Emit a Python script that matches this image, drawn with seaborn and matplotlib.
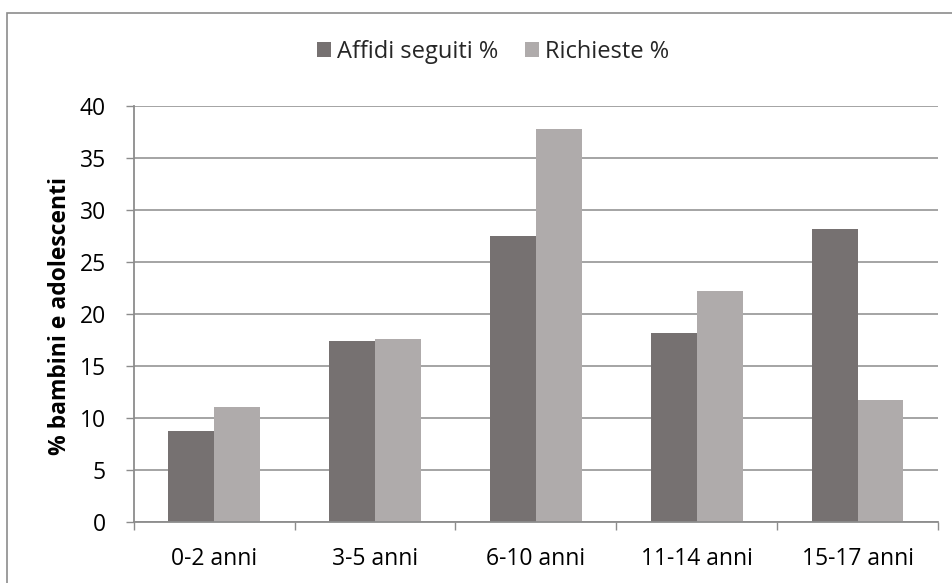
import matplotlib
matplotlib.use("Agg")
import matplotlib.pyplot as plt
import matplotlib.patches as mpatches
import seaborn as sns
import pandas as pd

categories = ["0-2 anni", "3-5 anni", "6-10 anni", "11-14 anni", "15-17 anni"]
affidi_seguiti = [8.7, 17.4, 27.5, 18.1, 28.1]
richieste = [11.0, 17.6, 37.8, 22.2, 11.7]
series_names = ["Affidi seguiti %", "Richieste %"]
y_ticks = [0, 5, 10, 15, 20, 25, 30, 35, 40]

df = pd.DataFrame({
    "fascia": categories * 2,
    "valore": affidi_seguiti + richieste,
    "serie": [series_names[0]] * len(categories) + [series_names[1]] * len(categories),
})

sns.set_theme(style="white")
plt.rcParams["font.family"] = ["Open Sans", "DejaVu Sans"]

FS = 16.5
W, H = 953, 583
fig = plt.figure(figsize=(W / 100, H / 100), dpi=100)
ax = fig.add_axes([133.7 / W, 1 - 521.7 / H, (938 - 133.7) / W, (521.7 - 105.7) / H])

colors = ["#767171", "#AFABAB"]
sns.barplot(data=df, x="fascia", y="valore", hue="serie", order=categories,
            hue_order=series_names, palette=colors, saturation=1, width=0.57,
            edgecolor="none", linewidth=0, ax=ax, legend=False)

grid_c = "#8C8C8C"
ax.set_ylim(0, 40)
ax.set_xlim(-0.5, len(categories) - 0.5)
ax.set_yticks(y_ticks)
ax.set_yticklabels([str(t) for t in y_ticks])
ax.yaxis.grid(True, color=grid_c, linewidth=1.1)
ax.set_axisbelow(True)

for side in ["top", "right"]:
    ax.spines[side].set_visible(False)
for side in ["left", "bottom"]:
    ax.spines[side].set_color(grid_c)
    ax.spines[side].set_linewidth(1.3)

# category boundaries carry the x tick marks; labels sit at centres
ax.set_xticks(range(len(categories)))
ax.set_xticklabels(categories)
ax.set_xticks([i - 0.5 for i in range(len(categories) + 1)], minor=True)
ax.tick_params(axis="x", which="major", length=0, pad=18, labelsize=FS, labelcolor="black")
ax.tick_params(axis="x", which="minor", length=6, width=1, color=grid_c, direction="out")
ax.tick_params(axis="y", which="major", length=6, width=1, color=grid_c, direction="out",
               pad=14, labelsize=FS, labelcolor="black")
ax.tick_params(left=True, bottom=False, which="major")
ax.tick_params(axis="x", which="minor", bottom=True)

ax.set_xlabel("")
ax.set_ylabel("")
fig.text(60 / W, 1 - 316 / H, "% bambini e adolescenti", rotation=90, ha="center",
         va="center", fontsize=FS, fontweight="bold", color="black")

handles = [mpatches.Patch(facecolor=c, edgecolor="none") for c in colors]
fig.legend(handles, series_names, loc="center", bbox_to_anchor=(493 / W, 1 - 52 / H),
           ncol=2, frameon=False, fontsize=17, handlelength=0.6, handleheight=0.6,
           handletextpad=0.25, columnspacing=1.1, borderpad=0, borderaxespad=0)

# chart area frame
fig.patches.append(mpatches.Rectangle((7.5 / W, -0.05), 1.1, 1 - 13 / H + 0.05,
                                      transform=fig.transFigure, fill=False,
                                      edgecolor="#8C8C8C", linewidth=1.2))

fig.savefig("out.png", dpi=100, facecolor="white")
